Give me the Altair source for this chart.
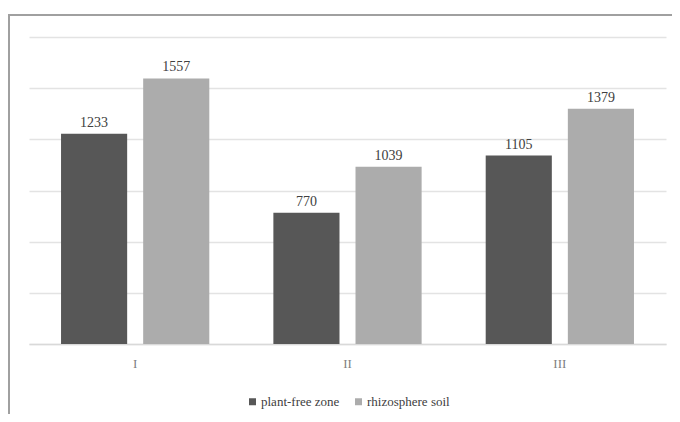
import altair as alt
import pandas as pd

categories = ["I", "II", "III"]
series = ["plant-free zone", "rhizosphere soil"]
plant_free = [1233, 770, 1105]
rhizosphere = [1557, 1039, 1379]

rows = []
for c, a, b in zip(categories, plant_free, rhizosphere):
    rows.append({"cat": c, "series": series[0], "value": a})
    rows.append({"cat": c, "series": series[1], "value": b})
df = pd.DataFrame(rows)

FONT = "Liberation Serif"

x = alt.X("cat:N", sort=categories, title=None,
          scale=alt.Scale(paddingInner=0, paddingOuter=0),
          axis=alt.Axis(labelAngle=0, ticks=False, domain=True, domainColor="#d9d9d9",
                        domainWidth=1.5, labelColor="#7f7f7f", labelFont=FONT,
                        labelFontSize=13, labelPadding=13, grid=False))
xo = alt.XOffset("series:N", sort=series,
                 scale=alt.Scale(paddingInner=0.195, paddingOuter=0.39))
y = alt.Y("value:Q", title=None,
          scale=alt.Scale(domain=[0, 1800], nice=False),
          axis=alt.Axis(values=[0, 300, 600, 900, 1200, 1500, 1800], labels=False,
                        ticks=False, domain=False, grid=True, gridColor="#e3e3e3",
                        gridWidth=1.5, title=None))

bars = alt.Chart(df).mark_bar().encode(
    x=x, xOffset=xo, y=y,
    color=alt.Color("series:N", sort=series,
                    scale=alt.Scale(domain=series, range=["#575757", "#acacac"]),
                    legend=alt.Legend(title=None, orient="none", legendX=217, legendY=358,
                                      direction="horizontal", symbolType="square",
                                      symbolSize=49, symbolStrokeWidth=0,
                                      labelFont=FONT, labelFontSize=13,
                                      labelColor="#404040",
                                      labelOffset=2)),
)

labels = alt.Chart(df).mark_text(dy=-11, font=FONT, fontSize=14, color="#404040").encode(
    x=alt.X("cat:N", sort=categories), xOffset=alt.XOffset("series:N", sort=series),
    y=alt.Y("value:Q"), text=alt.Text("value:Q", format="d"),
)

frame_df = pd.DataFrame({"a": [0]})
top_line = alt.Chart(frame_df).mark_rule(color="#a0a0a0", strokeWidth=2).encode(
    x=alt.value(-21), x2=alt.value(643), y=alt.value(-22))
left_line = alt.Chart(frame_df).mark_rule(color="#a0a0a0", strokeWidth=2).encode(
    x=alt.value(-20), y=alt.value(-23), y2=alt.value(377))

chart = alt.layer(bars, labels, top_line, left_line).properties(
    width=637, height=307,
    autosize=alt.AutoSizeParams(type="none"),
    padding={"left": 21, "top": 29, "right": 6, "bottom": 70},
    background="white",
).configure_view(stroke=None).configure_legend(columnPadding=12)

chart.save("out.html", embed_options={"renderer": "svg", "actions": False})
